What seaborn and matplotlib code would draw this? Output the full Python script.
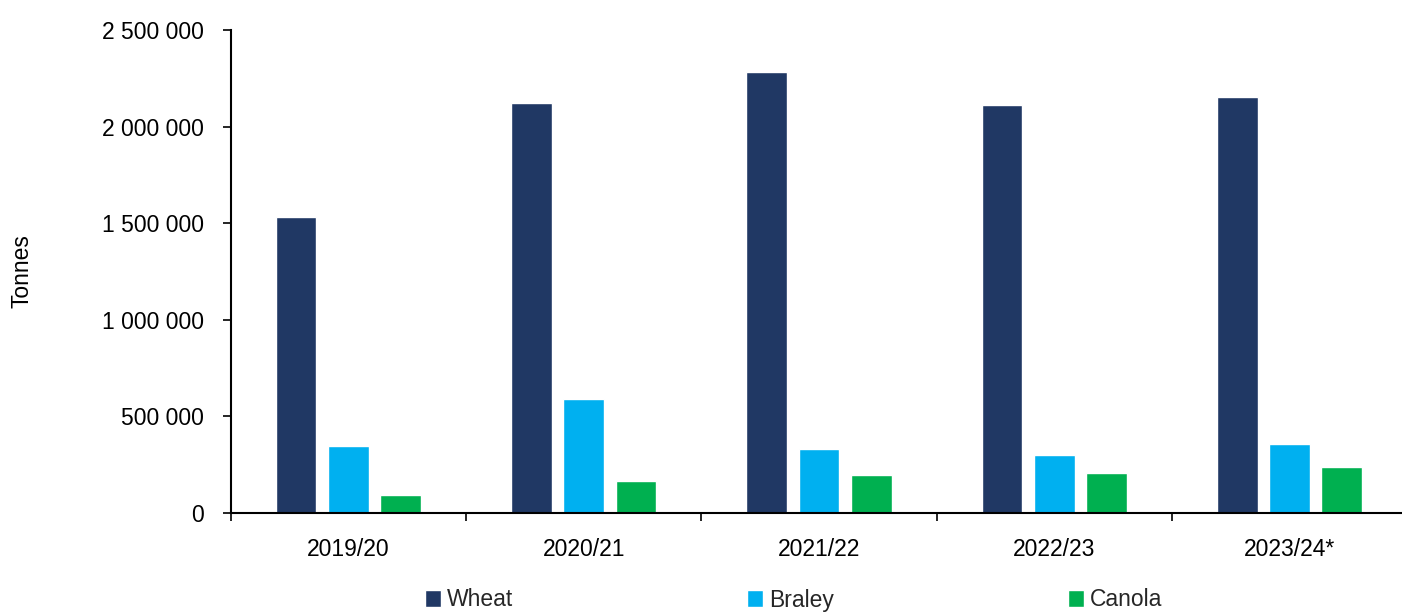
import pandas as pd
import seaborn as sns
import matplotlib.pyplot as plt
from matplotlib.ticker import FuncFormatter, FixedLocator

seasons = ["2019/20", "2020/21", "2021/22", "2022/23", "2023/24*"]
crops = ["Wheat", "Braley", "Canola"]
wheat = [1533000, 2120000, 2284000, 2111000, 2151000]
barley = [345000, 587000, 331000, 299000, 357000]
canola = [92000, 163000, 195000, 207000, 235000]
crop_colors = ["#203864", "#00B0F0", "#00B050"]

tonnes = pd.DataFrame({
    "season": seasons * 3,
    "crop": [crops[0]] * 5 + [crops[1]] * 5 + [crops[2]] * 5,
    "tonnes": wheat + barley + canola,
})

sns.set_style("ticks")
plt.rcParams["font.family"] = ["Liberation Sans", "DejaVu Sans"]
fs = 16.5

fig = plt.figure(figsize=(14.02, 6.13), dpi=100)
ax = fig.add_axes([230.7 / 1402, 1 - 512.7 / 613, 1176.5 / 1402, 482.7 / 613])

sns.barplot(data=tonnes, x="season", y="tonnes", hue="crop", order=seasons,
            hue_order=crops, palette=dict(zip(crops, crop_colors)),
            width=0.667, gap=0.22, saturation=1, ax=ax, legend=True)

ax.set_xlim(-0.5, 4.5)
ax.set_ylim(0, 2500000)
ax.set_yticks(range(0, 2500001, 500000))
ax.yaxis.set_major_formatter(FuncFormatter(lambda v, p: f"{int(v):,}".replace(",", " ")))
ax.xaxis.set_minor_locator(FixedLocator([i - 0.5 for i in range(6)]))
ax.tick_params(axis="x", which="major", length=0, pad=18)
ax.tick_params(axis="x", which="minor", length=6, width=1.2, color="black")
ax.tick_params(axis="y", length=6, width=1.2, pad=13, color="black")
ax.tick_params(labelsize=fs, labelcolor="black")

for side in ["top", "right"]:
    ax.spines[side].set_visible(False)
for side in ["left", "bottom"]:
    ax.spines[side].set_color("black")
    ax.spines[side].set_linewidth(1.5)

ax.set_xlabel("")
ax.set_ylabel("Tonnes", fontsize=fs, color="black")
ax.yaxis.set_label_coords(-0.168, 0.5)

handles, labels = ax.get_legend_handles_labels()
ax.get_legend().remove()
fig.legend(handles, labels, loc="center left", bbox_to_anchor=(425 / 1402, 1 - 600 / 613),
           ncol=3, frameon=False, borderpad=0, borderaxespad=0,
           handlelength=0.7, handleheight=0.7, handletextpad=0.26,
           columnspacing=10.2, fontsize=fs)

fig.savefig("out.png", dpi=100)
